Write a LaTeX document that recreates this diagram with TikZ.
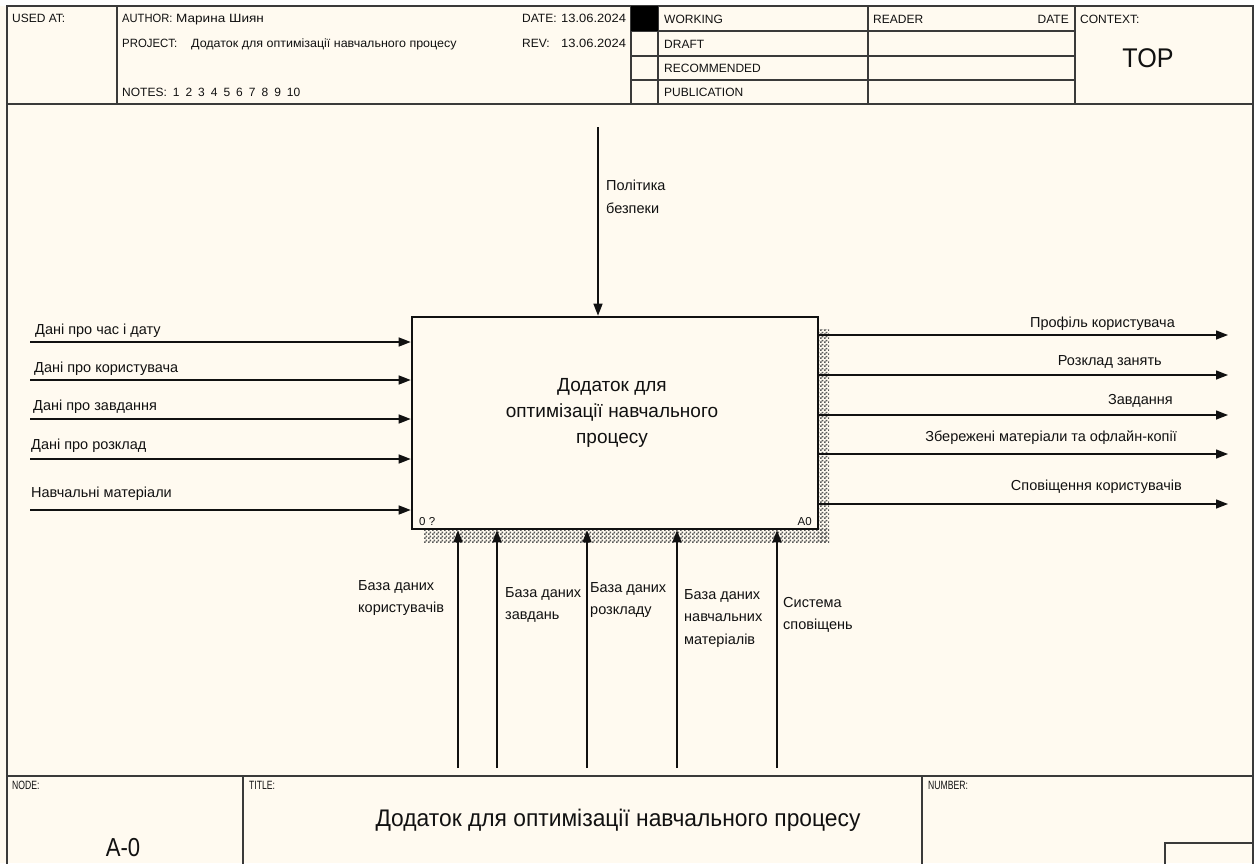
\documentclass[tikz,border=0pt]{standalone}
\usepackage{fontspec}
\setmainfont{Liberation Sans}
\usetikzlibrary{arrows.meta,patterns}
\definecolor{paper}{HTML}{FFFAF0}
\definecolor{ink}{HTML}{111111}
\definecolor{rule}{HTML}{3A3A3A}
\newcommand\fsz[2]{\fontsize{#1}{#2}\selectfont}
% fine diagonal checker used for the box shadow
\pgfdeclarepatternformonly{idefshade}{\pgfqpoint{0pt}{0pt}}{\pgfqpoint{4pt}{4pt}}{\pgfqpoint{4pt}{4pt}}{%
  \pgfpathrectangle{\pgfqpoint{0pt}{0pt}}{\pgfqpoint{2pt}{2pt}}%
  \pgfpathrectangle{\pgfqpoint{2pt}{2pt}}{\pgfqpoint{2pt}{2pt}}%
  \pgfusepath{fill}}
\begin{document}
\begin{tikzpicture}[x=1pt,y=-1pt,
  frame/.style={draw=rule,line width=1.6pt},
  head/.style={font=\fsz{12}{14},inner sep=0pt,anchor=base west,text=ink},
  foot/.style={font=\fsz{12}{14},inner sep=0pt,anchor=base west,text=ink},
  lbl/.style={font=\fsz{14.5}{22.5},inner sep=0pt,text=ink,align=left},
  flow/.style={draw=ink,line width=1.4pt,-{Triangle[length=12pt,width=9pt]}},
  shade/.style={pattern=idefshade,pattern color=black!65},
]
\useasboundingbox (0,0) rectangle (1256,863);
\clip (0,0) rectangle (1256,863);
\fill[paper] (0,6) rectangle (1253,863);

% ---- sheet frame and header grid ----
\draw[frame] (7,6) rectangle (1253,890);
\draw[frame] (7,104) -- (1253,104);
\draw[frame] (117,6) -- (117,104);
\draw[frame] (631,6) -- (631,104);
\draw[frame] (658,6) -- (658,104);
\draw[frame] (868,6) -- (868,104);
\draw[frame] (1075,6) -- (1075,104);
\draw[frame] (631,31) -- (1075,31);
\draw[frame] (631,56) -- (1075,56);
\draw[frame] (631,80) -- (1075,80);
\fill[black] (631,6) rectangle (658,31);

% ---- header texts ----
\node[head] (usedat) at (12,22) {USED AT:};
\node[head] (author) at (122,22) {\scalebox{0.93}[1]{AUTHOR:}};
\node[head] (authorv) at (176,22) {\scalebox{1.13}[1]{Марина Шиян}};
\node[head] (project) at (122,47) {\scalebox{0.95}[1]{PROJECT:}};
\node[head] (projectv) at (191,47) {\scalebox{1.04}[1]{Додаток для оптимізації навчального процесу}};
\node[head] (notes) at (122,96) {\spaceskip=6pt NOTES: 1 2 3 4 5 6 7 8 9 10};
\node[head] (date) at (522,22) {DATE:};
\node[head] (datev) at (561,22) {\scalebox{1.08}[1]{13.06.2024}};
\node[head] (rev) at (522,47) {REV:};
\node[head] (revv) at (561,47) {\scalebox{1.08}[1]{13.06.2024}};
\node[head] (working) at (664,23) {WORKING};
\node[head] (draft) at (664,48) {DRAFT};
\node[head] (recommended) at (664,72) {RECOMMENDED};
\node[head] (publication) at (664,96) {PUBLICATION};
\node[head] (reader) at (873,23) {READER};
\node[head,anchor=base east] (rdate) at (1069,23) {DATE};
\node[head] (context) at (1080,23) {CONTEXT:};
\node[font=\fsz{27}{30},inner sep=0pt,text=ink] (top) at (1148,58) {\scalebox{0.93}[1]{TOP}};

% ---- activity box with its shadow ----
\fill[shade] (818,329) rectangle (829,542);
\fill[shade] (424,529) rectangle (829,542);
\node[draw=ink,line width=2.6pt,fill=paper,minimum width=406pt,minimum height=212pt,inner sep=0pt] (A0) at (615,423) {};
\node[font=\fsz{19}{26},align=center,text=ink,inner sep=0pt] (A0name) at (612,413) {Додаток для\\оптимізації навчального\\процесу};
\node[font=\fsz{11.5}{13},anchor=base west,inner sep=0pt,text=ink] (A0cost) at (419,525) {0 ?};
\node[font=\fsz{11.5}{13},anchor=base east,inner sep=0pt,text=ink] (A0id) at (812,525) {A0};

% ---- inputs ----
\coordinate (in1) at (30,342);
\coordinate (in2) at (30,380);
\coordinate (in3) at (30,419);
\coordinate (in4) at (30,459);
\coordinate (in5) at (30,510);
\foreach \i in {1,...,5} \draw[flow] (in\i) -- (in\i -| A0.west);
\node[lbl,anchor=base west] (in1l) at (35,334) {Дані про час і дату};
\node[lbl,anchor=base west] (in2l) at (34,372) {Дані про користувача};
\node[lbl,anchor=base west] (in3l) at (33,410) {Дані про завдання};
\node[lbl,anchor=base west] (in4l) at (31,449) {Дані про розклад};
\node[lbl,anchor=base west] (in5l) at (31,497) {Навчальні матеріали};

% ---- outputs ----
\coordinate (out1) at (1228,335);
\coordinate (out2) at (1228,375);
\coordinate (out3) at (1228,415);
\coordinate (out4) at (1228,454);
\coordinate (out5) at (1228,504);
\foreach \i in {1,...,5} \draw[flow] (out\i -| A0.east) -- (out\i);
\node[lbl,anchor=base east] (out1l) at (1175,327) {Профіль користувача};
\node[lbl,anchor=base east] (out2l) at (1162,365) {Розклад занять};
\node[lbl,anchor=base east] (out3l) at (1173,404) {Завдання};
\node[lbl,anchor=base east] (out4l) at (1177,441) {Збережені матеріали та офлайн-копії};
\node[lbl,anchor=base east] (out5l) at (1182,490) {Сповіщення користувачів};

% ---- control ----
\coordinate (ctl) at (598,127);
\draw[flow] (ctl) -- (ctl |- A0.north);
\node[lbl,anchor=north west] (ctll) at (606,180) {Політика\\безпеки};

% ---- mechanisms ----
\coordinate (m1) at (458,768);
\coordinate (m2) at (497,768);
\coordinate (m3) at (587,768);
\coordinate (m4) at (677,768);
\coordinate (m5) at (777,768);
\foreach \i in {1,...,5} \draw[flow] (m\i) -- (m\i |- A0.south);
\node[lbl,anchor=north west] (m1l) at (358,580) {База даних\\користувачів};
\node[lbl,anchor=north west] (m2l) at (505,587) {База даних\\завдань};
\node[lbl,anchor=north west] (m3l) at (590,582) {База даних\\розкладу};
\node[lbl,anchor=north west] (m4l) at (684,589) {База даних\\навчальних\\матеріалів};
\node[lbl,anchor=north west] (m5l) at (783,597) {Система\\сповіщень};

% ---- footer ----
\draw[frame] (7,776) -- (1253,776);
\draw[frame] (243,776) -- (243,890);
\draw[frame] (922,776) -- (922,890);
\draw[frame] (1165,890) |- (1253,843);
\node[foot] (nodelbl) at (12,789) {\scalebox{0.72}[1]{NODE:}};
\node[foot] (titlelbl) at (249,789) {\scalebox{0.72}[1]{TITLE:}};
\node[foot] (numberlbl) at (928,789) {\scalebox{0.72}[1]{NUMBER:}};
\node[font=\fsz{26}{30},inner sep=0pt,text=ink] (nodeid) at (123,848) {\scalebox{0.85}[1]{A-0}};
\node[font=\fsz{24}{28},inner sep=0pt,text=ink] (title) at (618,820) {\scalebox{0.95}[1]{Додаток для оптимізації навчального процесу}};
\end{tikzpicture}
\end{document}
